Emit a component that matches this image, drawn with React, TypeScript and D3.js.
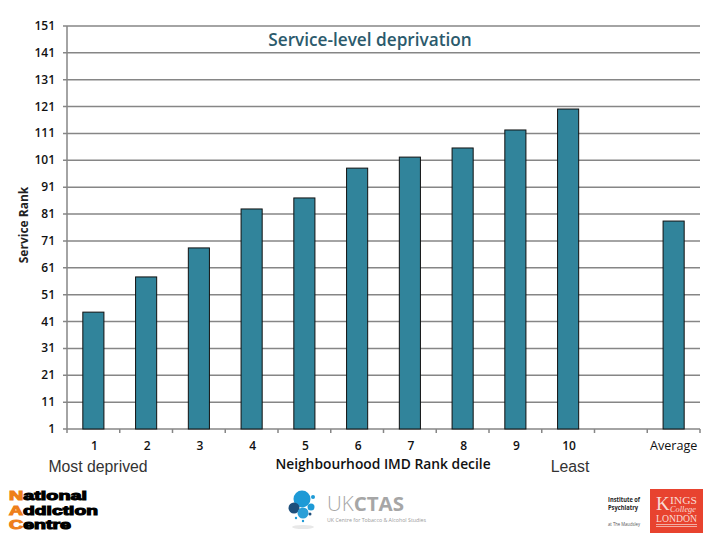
import React from 'react'
import * as d3 from 'd3'

const categories = ['1', '2', '3', '4', '5', '6', '7', '8', '9', '10', '', 'Average']
const ranks = [44.5, 57.6, 68.4, 82.9, 87, 98.1, 102.2, 105.6, 112.3, 120.1, null, 78.4]
const yTicks = [1, 11, 21, 31, 41, 51, 61, 71, 81, 91, 101, 111, 121, 131, 141, 151]

const labelFont = '"Open Sans", sans-serif'
const thinFont = '"Liberation Sans", sans-serif'

const left = 67
const right = 700
const x = d3.scaleBand().domain(categories.map((c, i) => i + ':' + c)).range([left, right]).paddingInner(0.6).paddingOuter(0.3)
const y = d3.scaleLinear().domain([1, 151]).range([429, 26])
const step = x.step()

const Logos = () => (
  <g>
    {/* National Addiction Centre */}
    <g fontFamily={thinFont} fontWeight={700} fontSize={12.2} stroke="#000" strokeWidth={1}>
      <text x={9} y={500} textLength={78} lengthAdjust="spacingAndGlyphs"><tspan fill="#ee7f1a" stroke="#ee7f1a">N</tspan>ational</text>
      <text x={9} y={514.5} textLength={89} lengthAdjust="spacingAndGlyphs"><tspan fill="#ee7f1a" stroke="#ee7f1a">A</tspan>ddiction</text>
      <text x={9} y={529} textLength={62} lengthAdjust="spacingAndGlyphs"><tspan fill="#ee7f1a" stroke="#ee7f1a">C</tspan>entre</text>
    </g>
    {/* UKCTAS */}
    <g>
      <ellipse cx={303} cy={527} rx={11} ry={2} fill="#e8e8e8" />
      <circle cx={302} cy={499} r={8.5} fill="#1e9ad6" />
      <circle cx={294} cy={508} r={5.5} fill="#1d4f7c" />
      <circle cx={303} cy={513} r={5.5} fill="#2a9fd8" />
      <circle cx={311} cy={507} r={3.5} fill="#1e9ad6" />
      <circle cx={313} cy={497} r={2} fill="#1e9ad6" />
      <circle cx={310} cy={514} r={1.5} fill="#1d4f7c" />
      <circle cx={303} cy={521} r={1.2} fill="#1e9ad6" />
      <circle cx={296} cy={518} r={1.2} fill="#1e9ad6" />
      <text x={327} y={511} fontFamily={labelFont} fontSize={20} fill="#a6a6a6" textLength={77} lengthAdjust="spacingAndGlyphs">
        <tspan fontWeight={300}>UK</tspan>
        <tspan fontWeight={700}>CTAS</tspan>
      </text>
      <text x={327} y={522} fontFamily={labelFont} fontSize={5.5} fill="#9a9a9a" textLength={99} lengthAdjust="spacingAndGlyphs">UK Centre for Tobacco &amp; Alcohol Studies</text>
    </g>
    {/* Institute of Psychiatry / King's */}
    <g fontFamily={labelFont} fontSize={7} fontWeight={700} fill="#222">
      <text x={608} y={502} textLength={32} lengthAdjust="spacingAndGlyphs">Institute of</text>
      <text x={608} y={510} textLength={30} lengthAdjust="spacingAndGlyphs">Psychiatry</text>
      <text x={608} y={526} fontSize={5} fontWeight={400} fill="#555" textLength={32} lengthAdjust="spacingAndGlyphs">at The Maudsley</text>
    </g>
    <rect x={650} y={489} width={53} height={44} fill="#e8432f" />
    <g fill="#f8dcd4" fontFamily='"Liberation Serif", serif'>
      <text x={656} y={510} fontSize={19}>K</text>
      <text x={670} y={504} fontSize={9.5} textLength={27} lengthAdjust="spacingAndGlyphs">INGS</text>
      <text x={670} y={512} fontSize={8} fontStyle="italic" textLength={26} lengthAdjust="spacingAndGlyphs">College</text>
      <text x={656} y={522} fontSize={9.5} textLength={41} lengthAdjust="spacingAndGlyphs">LONDON</text>
      <rect x={656} y={524} width={41} height={0.7} />
      <rect x={656} y={526} width={41} height={0.7} />
    </g>
  </g>
)

export default function App() {
  return (
    <svg width={720} height={540} style={{ position: 'absolute', left: 0, top: 0, background: '#fff' }}>
      {yTicks.map((t) => (
        <line key={t} x1={left - 4} x2={right} y1={y(t)} y2={y(t)} stroke="#868686" strokeWidth={1.5} />
      ))}
      <line x1={left} x2={left} y1={y(151)} y2={y(1)} stroke="#868686" strokeWidth={1.5} />
      {d3.range(0, categories.length + 1).map((i) => (
        <line key={i} x1={left + i * step} x2={left + i * step} y1={y(1)} y2={y(1) + 4} stroke="#868686" strokeWidth={1.5} />
      ))}
      {ranks.map((v, i) =>
        v === null ? null : (
          <rect
            key={i}
            x={x(i + ':' + categories[i])}
            y={y(v)}
            width={x.bandwidth()}
            height={y(1) - y(v)}
            fill="#31849b"
            stroke="#111"
            strokeWidth={1}
          />
        )
      )}
      {yTicks.map((t) => (
        <text key={t} x={55} y={y(t) + 4} textAnchor="end" fontFamily={labelFont} fontSize={12} fontWeight={600} fill="#111">
          {t}
        </text>
      ))}
      {categories.map((c, i) => (
        <text
          key={i}
          x={(x(i + ':' + c) as number) + x.bandwidth() / 2 + (c === 'Average' ? 0 : 1)}
          y={450}
          textAnchor="middle"
          fontFamily={labelFont}
          fontSize={c === 'Average' ? 12.6 : 12}
          fontWeight={c === 'Average' ? 500 : 600}
          fill="#111"
        >
          {c}
        </text>
      ))}
      <text x={370} y={46} textAnchor="middle" fontFamily={labelFont} fontSize={17.2} fontWeight={600} fill="#2b5a6c">
        Service-level deprivation
      </text>
      <text transform="translate(28,225) rotate(-90)" textAnchor="middle" fontFamily={labelFont} fontSize={12} fontWeight={700} fill="#222">
        Service Rank
      </text>
      <text x={383} y={469} textAnchor="middle" fontFamily={labelFont} fontSize={13.8} fontWeight={600} fill="#111">
        Neighbourhood IMD Rank decile
      </text>
      <text x={98} y={472} textAnchor="middle" fontFamily={thinFont} fontSize={15.8} fill="#333">
        Most deprived
      </text>
      <text x={570} y={472} textAnchor="middle" fontFamily={thinFont} fontSize={15.8} fill="#333">
        Least
      </text>
      <Logos />
    </svg>
  )
}
